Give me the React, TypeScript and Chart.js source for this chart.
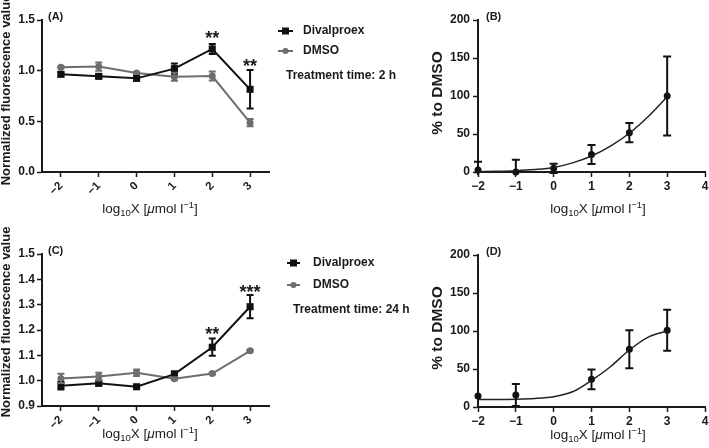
import React, { useEffect, useRef } from "react";
import { Chart, registerables } from "chart.js";
Chart.register(...registerables);

const FF = "'Liberation Sans', Arial, Helvetica, sans-serif";
const INK = "#1a1a1a";
const GRAY = "#6e6e6e";

// ---------- data ----------
const doses = [-2, -1, 0, 1, 2, 3];
const seriesNames = ["Divalproex", "DMSO"];

// Panel A: treatment time 2 h
const divalproexA = [0.964, 0.944, 0.924, 1.02, 1.214, 0.816];
const divalproexAErr = [0.02, 0.02, 0.02, 0.05, 0.05, 0.19];
const dmsoA = [1.033, 1.04, 0.977, 0.94, 0.947, 0.487];
const dmsoAErr = [0.01, 0.04, 0.01, 0.04, 0.045, 0.035];
const starXA = [2, 3];
const starYA = [1.37, 1.09];
const starTextA = ["**", "**"];
const yTicksA = [0, 0.5, 1.0, 1.5];

// Panel C: treatment time 24 h
const divalproexC = [0.98, 0.99, 0.976, 1.026, 1.132, 1.292];
const divalproexCErr = [0.015, 0.01, 0.006, 0.01, 0.034, 0.046];
const dmsoC = [1.009, 1.016, 1.031, 1.008, 1.028, 1.118];
const dmsoCErr = [0.018, 0.015, 0.013, 0.005, 0.004, 0.004];
const starXC = [2, 3];
const starYC = [1.203, 1.369];
const starTextC = ["**", "***"];
const yTicksC = [0.9, 1.0, 1.1, 1.2, 1.3, 1.4, 1.5];

// Panel B: % to DMSO, 2 h
const dosesB = [-2, -1, 0, 1, 2, 3];
const pctB = [2.6, 0, 4.8, 23, 51.7, 100];
const pctBErr = [11, 16, 6, 12.5, 12.7, 52];
const fitX = [-2, -1.5, -1, -0.5, 0, 0.5, 1, 1.5, 2, 2.5, 3];
const fitB = [0.5, 1, 1.8, 3.3, 6, 12, 21, 34, 51, 73, 99];

// Panel D: % to DMSO, 24 h
const dosesD = [-2, -1, 1, 2, 3];
const pctD = [14.5, 15.8, 36.4, 75.9, 101];
const pctDErr = [0, 14.5, 13, 25, 27];
const fitD = [10, 10, 10.3, 11.2, 13.5, 20, 35, 53, 75, 92, 100];

const xTicksBD = [-2, -1, 0, 1, 2, 3, 4];
const yTicksBD = [0, 50, 100, 150, 200];

const fmtMinus = (v: number) => (v < 0 ? "\u2212" + Math.abs(v) : String(v));

// ---------- drawing helpers ----------
function drawXTitle(ctx: CanvasRenderingContext2D, cx: number, cy: number) {
  const parts = [
    { t: "log", f: `13.5px ${FF}`, dy: 0 },
    { t: "10", f: `9.5px ${FF}`, dy: 3 },
    { t: "X [", f: `13.5px ${FF}`, dy: 0 },
    { t: "\u03bc", f: `italic 13.5px ${FF}`, dy: 0 },
    { t: "mol l", f: `13.5px ${FF}`, dy: 0 },
    { t: "\u22121", f: `9.5px ${FF}`, dy: -5 },
    { t: "]", f: `13.5px ${FF}`, dy: 0 },
  ];
  let total = 0;
  const widths = parts.map((p) => {
    ctx.font = p.f;
    const w = ctx.measureText(p.t).width;
    total += w;
    return w;
  });
  let x = cx - total / 2;
  const base = cy + 4.8;
  ctx.fillStyle = INK;
  ctx.textAlign = "left";
  ctx.textBaseline = "alphabetic";
  parts.forEach((p, i) => {
    ctx.font = p.f;
    ctx.fillText(p.t, x, base + p.dy);
    x += widths[i];
  });
}

function decorPlugin(d: any) {
  return {
    id: "decor" + d.panel,
    afterDatasetsDraw(chart: any) {
      const ctx = chart.ctx;
      const ys = chart.scales.y;
      const area = chart.chartArea;
      ctx.save();
      ctx.beginPath();
      ctx.rect(area.left - 10, area.top - 10, area.right - area.left + 20, area.bottom - area.top + 13);
      ctx.clip();
      chart.data.datasets.forEach((ds: any, i: number) => {
        const errs = ds.errors;
        if (!errs) return;
        const meta = chart.getDatasetMeta(i);
        meta.data.forEach((el: any, j: number) => {
          const e = errs[j];
          if (!e) return;
          const v = ds.data[j].y;
          const yt = ys.getPixelForValue(v + e);
          const yb = ys.getPixelForValue(v - e);
          ctx.strokeStyle = ds.borderColor;
          ctx.lineWidth = 2;
          ctx.beginPath();
          ctx.moveTo(el.x, yt);
          ctx.lineTo(el.x, yb);
          ctx.moveTo(el.x - d.capHalf, yt);
          ctx.lineTo(el.x + d.capHalf, yt);
          ctx.moveTo(el.x - d.capHalf, yb);
          ctx.lineTo(el.x + d.capHalf, yb);
          ctx.stroke();
        });
      });
      ctx.restore();
    },
    afterDraw(chart: any) {
      const ctx = chart.ctx;
      ctx.save();
      // panel label
      ctx.fillStyle = INK;
      ctx.font = `bold 11px ${FF}`;
      ctx.textAlign = "left";
      ctx.textBaseline = "middle";
      ctx.fillText(d.panel, d.panelX, d.panelY);
      // y title
      ctx.save();
      ctx.translate(d.yTitleX, d.yTitleY);
      ctx.rotate(-Math.PI / 2);
      ctx.font = d.yTitleFont;
      ctx.textAlign = "center";
      ctx.textBaseline = "middle";
      ctx.fillText(d.yTitle, 0, 0);
      ctx.restore();
      // x title
      drawXTitle(ctx, d.xTitleX, d.xTitleY);
      // stars
      if (d.stars) {
        const xs = chart.scales.x;
        const ys = chart.scales.y;
        ctx.font = `bold 18px ${FF}`;
        ctx.textAlign = "center";
        ctx.textBaseline = "alphabetic";
        ctx.fillStyle = INK;
        d.stars.x.forEach((sx: number, i: number) => {
          const px = xs.getPixelForValue(sx);
          const py = ys.getPixelForValue(d.stars.y[i]);
          ctx.fillText(d.stars.text[i], px, py + 10.5);
        });
      }
      // legend
      if (d.legend) {
        const L = d.legend;
        chart.data.datasets.slice(0, 2).forEach((ds: any, i: number) => {
          const y = L.rows[i];
          ctx.strokeStyle = ds.borderColor;
          ctx.lineWidth = 2;
          ctx.beginPath();
          ctx.moveTo(L.x1, y);
          ctx.lineTo(L.x2, y);
          ctx.stroke();
          const cx = (L.x1 + L.x2) / 2;
          ctx.fillStyle = ds.backgroundColor;
          if (ds.pointStyle === "rect") {
            ctx.fillRect(cx - 3.5, y - 3.5, 7, 7);
          } else {
            ctx.beginPath();
            ctx.arc(cx, y, 3, 0, Math.PI * 2);
            ctx.fill();
          }
          ctx.fillStyle = INK;
          ctx.font = `bold 12px ${FF}`;
          ctx.textAlign = "left";
          ctx.textBaseline = "middle";
          ctx.fillText(ds.label, L.textX, y);
        });
        ctx.fillStyle = INK;
        ctx.font = `bold 12px ${FF}`;
        ctx.textAlign = "left";
        ctx.textBaseline = "middle";
        ctx.fillText(L.note, L.noteX, L.noteY);
      }
      ctx.restore();
    },
  };
}

function axisStyle() {
  return {
    border: { display: true, color: INK, width: 2 },
    grid: { drawOnChartArea: false, drawTicks: true, tickLength: 5, tickColor: INK, tickWidth: 1.5 },
  };
}

function buildConfig(p: any) {
  return {
    type: "line",
    data: { datasets: p.datasets },
    options: {
      responsive: false,
      maintainAspectRatio: false,
      animation: false,
      events: [],
      layout: { padding: { top: p.top, right: p.padRight, left: 0, bottom: 0 } },
      plugins: { legend: { display: false }, tooltip: { enabled: false }, title: { display: false } },
      scales: {
        x: {
          type: "linear",
          min: p.xMin,
          max: p.xMax,
          ...axisStyle(),
          afterBuildTicks: (s: any) => {
            s.ticks = p.xTicks.map((v: number) => ({ value: v }));
          },
          afterFit: (s: any) => {
            s.height = p.height - p.bottom;
            s.paddingLeft = 0;
            s.paddingRight = 0;
          },
          ticks: {
            autoSkip: false,
            minRotation: p.rot,
            maxRotation: p.rot,
            padding: 2,
            color: INK,
            font: { family: FF, size: p.xTickSize, weight: "bold" },
            callback: (v: any) => fmtMinus(Number(v)),
          },
        },
        y: {
          type: "linear",
          min: p.yMin,
          max: p.yMax,
          ...axisStyle(),
          afterBuildTicks: (s: any) => {
            s.ticks = p.yTicks.map((v: number) => ({ value: v }));
          },
          afterFit: (s: any) => {
            s.width = p.left;
            s.paddingTop = 0;
            s.paddingBottom = 0;
          },
          ticks: {
            autoSkip: false,
            padding: p.yPad,
            color: INK,
            font: { family: FF, size: p.yTickSize, weight: "bold" },
            callback: (v: any) => p.yFmt(Number(v)),
          },
        },
      },
    },
    plugins: [decorPlugin(p.decor)],
  };
}

function lineDatasets(div: number[], divErr: number[], dm: number[], dmErr: number[]) {
  return [
    {
      label: seriesNames[0],
      data: doses.map((x, i) => ({ x, y: div[i] })),
      errors: divErr,
      borderColor: "#111111",
      backgroundColor: "#111111",
      borderWidth: 2,
      pointStyle: "rect",
      pointRadius: 5,
      pointBorderWidth: 0,
      tension: 0,
      clip: false,
    },
    {
      label: seriesNames[1],
      data: doses.map((x, i) => ({ x, y: dm[i] })),
      errors: dmErr,
      borderColor: GRAY,
      backgroundColor: GRAY,
      borderWidth: 2,
      pointStyle: "circle",
      pointRadius: 3.5,
      pointBorderWidth: 0,
      tension: 0,
      clip: false,
    },
  ];
}

function pctDatasets(xs: number[], ys: number[], errs: number[], fit: number[]) {
  return [
    {
      label: "fit",
      data: fitX.map((x, i) => ({ x, y: fit[i] })),
      borderColor: "#222222",
      backgroundColor: "#222222",
      borderWidth: 1.5,
      pointRadius: 0,
      cubicInterpolationMode: "monotone",
      clip: false,
    },
    {
      label: "% to DMSO",
      data: xs.map((x, i) => ({ x, y: ys[i] })),
      errors: errs,
      borderColor: "#111111",
      backgroundColor: "#111111",
      showLine: false,
      pointStyle: "circle",
      pointRadius: 3.5,
      pointBorderWidth: 0,
      clip: false,
    },
  ];
}

const LEFT_W = 440;

const configA = () =>
  buildConfig({
    datasets: lineDatasets(divalproexA, divalproexAErr, dmsoA, dmsoAErr),
    height: 224, top: 20, bottom: 172, left: 42, padRight: LEFT_W - 269,
    xMin: -2.5, xMax: 3.5, xTicks: doses, rot: 45, xTickSize: 11.5,
    yMin: 0, yMax: 1.5, yTicks: yTicksA, yTickSize: 12, yPad: 2,
    yFmt: (v: number) => v.toFixed(1),
    decor: {
      panel: "(A)", panelX: 48, panelY: 17,
      yTitle: "Normalized fluorescence value", yTitleX: 6, yTitleY: 90, yTitleFont: `bold 13px ${FF}`,
      xTitleX: 150, xTitleY: 208, capHalf: 3.5,
      stars: { x: starXA, y: starYA, text: starTextA },
      legend: { x1: 278, x2: 293, textX: 303, rows: [31, 51], note: "Treatment time: 2 h", noteX: 286, noteY: 76 },
    },
  });

const configC = () =>
  buildConfig({
    datasets: lineDatasets(divalproexC, divalproexCErr, dmsoC, dmsoCErr),
    height: 224, top: 30, bottom: 182, left: 42, padRight: LEFT_W - 269,
    xMin: -2.5, xMax: 3.5, xTicks: doses, rot: 45, xTickSize: 11.5,
    yMin: 0.9, yMax: 1.5, yTicks: yTicksC, yTickSize: 12, yPad: 2,
    yFmt: (v: number) => v.toFixed(1),
    decor: {
      panel: "(C)", panelX: 48, panelY: 27,
      yTitle: "Normalized fluorescence value", yTitleX: 6, yTitleY: 98, yTitleFont: `bold 13px ${FF}`,
      xTitleX: 150, xTitleY: 209, capHalf: 3.5,
      stars: { x: starXC, y: starYC, text: starTextC },
      legend: { x1: 287, x2: 300, textX: 313, rows: [39, 61], note: "Treatment time: 24 h", noteX: 293, noteY: 86 },
    },
  });

const configB = () =>
  buildConfig({
    datasets: pctDatasets(dosesB, pctB, pctBErr, fitB),
    height: 224, top: 20, bottom: 172, left: 118, padRight: 3,
    xMin: -2, xMax: 4, xTicks: xTicksBD, rot: 0, xTickSize: 12,
    yMin: 0, yMax: 200, yTicks: yTicksBD, yTickSize: 12, yPad: 3,
    yFmt: (v: number) => String(v),
    decor: {
      panel: "(B)", panelX: 126, panelY: 17,
      yTitle: "% to DMSO", yTitleX: 78, yTitleY: 93, yTitleFont: `bold 15.5px ${FF}`,
      xTitleX: 238, xTitleY: 208, capHalf: 4,
    },
  });

const configD = () =>
  buildConfig({
    datasets: pctDatasets(dosesD, pctD, pctDErr, fitD),
    height: 224, top: 31, bottom: 183, left: 118, padRight: 3,
    xMin: -2, xMax: 4, xTicks: xTicksBD, rot: 0, xTickSize: 12,
    yMin: 0, yMax: 200, yTicks: yTicksBD, yTickSize: 12, yPad: 3,
    yFmt: (v: number) => String(v),
    decor: {
      panel: "(D)", panelX: 126, panelY: 28,
      yTitle: "% to DMSO", yTitleX: 78, yTitleY: 104, yTitleFont: `bold 15.5px ${FF}`,
      xTitleX: 238, xTitleY: 210, capHalf: 4,
    },
  });

function Panel(props: { left: number; top: number; width: number; height: number; build: () => any }) {
  const ref = useRef<HTMLCanvasElement>(null);
  useEffect(() => {
    const chart = new Chart(ref.current as HTMLCanvasElement, props.build());
    return () => chart.destroy();
  }, []);
  return (
    <canvas
      ref={ref}
      width={props.width}
      height={props.height}
      style={{ position: "absolute", left: props.left, top: props.top, width: props.width, height: props.height }}
    />
  );
}

export default function App() {
  return (
    <div style={{ position: "fixed", left: 0, top: 0, width: 709, height: 448, background: "#ffffff", overflow: "hidden" }}>
      <Panel left={0} top={0} width={LEFT_W} height={224} build={configA} />
      <Panel left={0} top={224} width={LEFT_W} height={224} build={configC} />
      <Panel left={360} top={0} width={349} height={224} build={configB} />
      <Panel left={360} top={224} width={349} height={224} build={configD} />
    </div>
  );
}
